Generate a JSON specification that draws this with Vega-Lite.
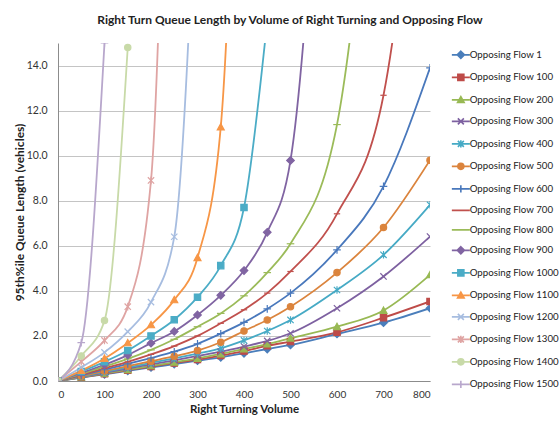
{
  "$schema": "https://vega.github.io/schema/vega-lite/v6.json",
  "autosize": {"type": "none"},
  "width": 372,
  "height": 338,
  "padding": {"left": 58, "top": 43, "right": 130, "bottom": 43},
  "background": "white",
  "title": {"text": "Right Turn Queue Length by Volume of Right Turning and Opposing Flow", "font": "Lato", "fontSize": 12, "fontWeight": "bold", "color": "#222", "anchor": "middle", "dx": 46, "offset": 16},
  "config": {
    "view": {"stroke": null},
    "font": "Lato",
    "axis": {"labelFont": "Lato", "titleFont": "Lato", "labelFontSize": 10, "labelColor": "#333", "titleFontSize": 11.5, "titleFontWeight": "bold", "titleColor": "#222", "domainColor": "#8c8c8c", "ticks": false, "gridColor": "#c4c4c4"},
    "legend": {"labelFont": "Lato", "labelFontSize": 9.7, "labelColor": "#222"}
  },
  "data": {"values": [
    {"series": "Opposing Flow 1", "volume": 0, "queue": 0},
    {"series": "Opposing Flow 1", "volume": 50, "queue": 0.15},
    {"series": "Opposing Flow 1", "volume": 100, "queue": 0.3},
    {"series": "Opposing Flow 1", "volume": 150, "queue": 0.45},
    {"series": "Opposing Flow 1", "volume": 200, "queue": 0.6},
    {"series": "Opposing Flow 1", "volume": 250, "queue": 0.75},
    {"series": "Opposing Flow 1", "volume": 300, "queue": 0.9},
    {"series": "Opposing Flow 1", "volume": 350, "queue": 1.05},
    {"series": "Opposing Flow 1", "volume": 400, "queue": 1.23},
    {"series": "Opposing Flow 1", "volume": 450, "queue": 1.42},
    {"series": "Opposing Flow 1", "volume": 500, "queue": 1.6},
    {"series": "Opposing Flow 1", "volume": 600, "queue": 2.09},
    {"series": "Opposing Flow 1", "volume": 700, "queue": 2.59},
    {"series": "Opposing Flow 1", "volume": 800, "queue": 3.23},
    {"series": "Opposing Flow 100", "volume": 0, "queue": 0},
    {"series": "Opposing Flow 100", "volume": 50, "queue": 0.16},
    {"series": "Opposing Flow 100", "volume": 100, "queue": 0.32},
    {"series": "Opposing Flow 100", "volume": 150, "queue": 0.48},
    {"series": "Opposing Flow 100", "volume": 200, "queue": 0.64},
    {"series": "Opposing Flow 100", "volume": 250, "queue": 0.8},
    {"series": "Opposing Flow 100", "volume": 300, "queue": 0.95},
    {"series": "Opposing Flow 100", "volume": 350, "queue": 1.13},
    {"series": "Opposing Flow 100", "volume": 400, "queue": 1.33},
    {"series": "Opposing Flow 100", "volume": 450, "queue": 1.56},
    {"series": "Opposing Flow 100", "volume": 500, "queue": 1.75},
    {"series": "Opposing Flow 100", "volume": 600, "queue": 2.16},
    {"series": "Opposing Flow 100", "volume": 700, "queue": 2.81},
    {"series": "Opposing Flow 100", "volume": 800, "queue": 3.53},
    {"series": "Opposing Flow 200", "volume": 0, "queue": 0},
    {"series": "Opposing Flow 200", "volume": 50, "queue": 0.17},
    {"series": "Opposing Flow 200", "volume": 100, "queue": 0.34},
    {"series": "Opposing Flow 200", "volume": 150, "queue": 0.5},
    {"series": "Opposing Flow 200", "volume": 200, "queue": 0.67},
    {"series": "Opposing Flow 200", "volume": 250, "queue": 0.83},
    {"series": "Opposing Flow 200", "volume": 300, "queue": 1.0},
    {"series": "Opposing Flow 200", "volume": 350, "queue": 1.2},
    {"series": "Opposing Flow 200", "volume": 400, "queue": 1.42},
    {"series": "Opposing Flow 200", "volume": 450, "queue": 1.64},
    {"series": "Opposing Flow 200", "volume": 500, "queue": 1.9},
    {"series": "Opposing Flow 200", "volume": 600, "queue": 2.41},
    {"series": "Opposing Flow 200", "volume": 700, "queue": 3.13},
    {"series": "Opposing Flow 200", "volume": 800, "queue": 4.71},
    {"series": "Opposing Flow 300", "volume": 0, "queue": 0},
    {"series": "Opposing Flow 300", "volume": 50, "queue": 0.19},
    {"series": "Opposing Flow 300", "volume": 100, "queue": 0.37},
    {"series": "Opposing Flow 300", "volume": 150, "queue": 0.55},
    {"series": "Opposing Flow 300", "volume": 200, "queue": 0.74},
    {"series": "Opposing Flow 300", "volume": 250, "queue": 0.92},
    {"series": "Opposing Flow 300", "volume": 300, "queue": 1.11},
    {"series": "Opposing Flow 300", "volume": 350, "queue": 1.3},
    {"series": "Opposing Flow 300", "volume": 400, "queue": 1.53},
    {"series": "Opposing Flow 300", "volume": 450, "queue": 1.78},
    {"series": "Opposing Flow 300", "volume": 500, "queue": 2.12},
    {"series": "Opposing Flow 300", "volume": 600, "queue": 3.23},
    {"series": "Opposing Flow 300", "volume": 700, "queue": 4.64},
    {"series": "Opposing Flow 300", "volume": 800, "queue": 6.41},
    {"series": "Opposing Flow 400", "volume": 0, "queue": 0},
    {"series": "Opposing Flow 400", "volume": 50, "queue": 0.2},
    {"series": "Opposing Flow 400", "volume": 100, "queue": 0.4},
    {"series": "Opposing Flow 400", "volume": 150, "queue": 0.6},
    {"series": "Opposing Flow 400", "volume": 200, "queue": 0.8},
    {"series": "Opposing Flow 400", "volume": 250, "queue": 1.0},
    {"series": "Opposing Flow 400", "volume": 300, "queue": 1.22},
    {"series": "Opposing Flow 400", "volume": 350, "queue": 1.45},
    {"series": "Opposing Flow 400", "volume": 400, "queue": 1.8},
    {"series": "Opposing Flow 400", "volume": 450, "queue": 2.22},
    {"series": "Opposing Flow 400", "volume": 500, "queue": 2.71},
    {"series": "Opposing Flow 400", "volume": 600, "queue": 4.04},
    {"series": "Opposing Flow 400", "volume": 700, "queue": 5.6},
    {"series": "Opposing Flow 400", "volume": 800, "queue": 7.82},
    {"series": "Opposing Flow 500", "volume": 0, "queue": 0},
    {"series": "Opposing Flow 500", "volume": 50, "queue": 0.22},
    {"series": "Opposing Flow 500", "volume": 100, "queue": 0.44},
    {"series": "Opposing Flow 500", "volume": 150, "queue": 0.66},
    {"series": "Opposing Flow 500", "volume": 200, "queue": 0.88},
    {"series": "Opposing Flow 500", "volume": 250, "queue": 1.1},
    {"series": "Opposing Flow 500", "volume": 300, "queue": 1.35},
    {"series": "Opposing Flow 500", "volume": 350, "queue": 1.72},
    {"series": "Opposing Flow 500", "volume": 400, "queue": 2.22},
    {"series": "Opposing Flow 500", "volume": 450, "queue": 2.71},
    {"series": "Opposing Flow 500", "volume": 500, "queue": 3.3},
    {"series": "Opposing Flow 500", "volume": 600, "queue": 4.81},
    {"series": "Opposing Flow 500", "volume": 700, "queue": 6.81},
    {"series": "Opposing Flow 500", "volume": 800, "queue": 9.8},
    {"series": "Opposing Flow 600", "volume": 0, "queue": 0},
    {"series": "Opposing Flow 600", "volume": 50, "queue": 0.25},
    {"series": "Opposing Flow 600", "volume": 100, "queue": 0.5},
    {"series": "Opposing Flow 600", "volume": 150, "queue": 0.76},
    {"series": "Opposing Flow 600", "volume": 200, "queue": 1.02},
    {"series": "Opposing Flow 600", "volume": 250, "queue": 1.3},
    {"series": "Opposing Flow 600", "volume": 300, "queue": 1.65},
    {"series": "Opposing Flow 600", "volume": 350, "queue": 2.1},
    {"series": "Opposing Flow 600", "volume": 400, "queue": 2.6},
    {"series": "Opposing Flow 600", "volume": 450, "queue": 3.2},
    {"series": "Opposing Flow 600", "volume": 500, "queue": 3.9},
    {"series": "Opposing Flow 600", "volume": 600, "queue": 5.82},
    {"series": "Opposing Flow 600", "volume": 700, "queue": 8.64},
    {"series": "Opposing Flow 600", "volume": 800, "queue": 13.9},
    {"series": "Opposing Flow 700", "volume": 0, "queue": 0},
    {"series": "Opposing Flow 700", "volume": 50, "queue": 0.28},
    {"series": "Opposing Flow 700", "volume": 100, "queue": 0.56},
    {"series": "Opposing Flow 700", "volume": 150, "queue": 0.85},
    {"series": "Opposing Flow 700", "volume": 200, "queue": 1.18},
    {"series": "Opposing Flow 700", "volume": 250, "queue": 1.55},
    {"series": "Opposing Flow 700", "volume": 300, "queue": 2.0},
    {"series": "Opposing Flow 700", "volume": 350, "queue": 2.56},
    {"series": "Opposing Flow 700", "volume": 400, "queue": 3.16},
    {"series": "Opposing Flow 700", "volume": 450, "queue": 3.9},
    {"series": "Opposing Flow 700", "volume": 500, "queue": 4.86},
    {"series": "Opposing Flow 700", "volume": 600, "queue": 7.42},
    {"series": "Opposing Flow 700", "volume": 700, "queue": 12.68},
    {"series": "Opposing Flow 700", "volume": 800, "queue": 30},
    {"series": "Opposing Flow 800", "volume": 0, "queue": 0},
    {"series": "Opposing Flow 800", "volume": 50, "queue": 0.32},
    {"series": "Opposing Flow 800", "volume": 100, "queue": 0.64},
    {"series": "Opposing Flow 800", "volume": 150, "queue": 0.98},
    {"series": "Opposing Flow 800", "volume": 200, "queue": 1.38},
    {"series": "Opposing Flow 800", "volume": 250, "queue": 1.85},
    {"series": "Opposing Flow 800", "volume": 300, "queue": 2.41},
    {"series": "Opposing Flow 800", "volume": 350, "queue": 3.0},
    {"series": "Opposing Flow 800", "volume": 400, "queue": 3.78},
    {"series": "Opposing Flow 800", "volume": 450, "queue": 4.81},
    {"series": "Opposing Flow 800", "volume": 500, "queue": 6.09},
    {"series": "Opposing Flow 800", "volume": 600, "queue": 11.38},
    {"series": "Opposing Flow 800", "volume": 700, "queue": 30},
    {"series": "Opposing Flow 900", "volume": 0, "queue": 0},
    {"series": "Opposing Flow 900", "volume": 50, "queue": 0.36},
    {"series": "Opposing Flow 900", "volume": 100, "queue": 0.72},
    {"series": "Opposing Flow 900", "volume": 150, "queue": 1.15},
    {"series": "Opposing Flow 900", "volume": 200, "queue": 1.68},
    {"series": "Opposing Flow 900", "volume": 250, "queue": 2.2},
    {"series": "Opposing Flow 900", "volume": 300, "queue": 2.93},
    {"series": "Opposing Flow 900", "volume": 350, "queue": 3.8},
    {"series": "Opposing Flow 900", "volume": 400, "queue": 4.9},
    {"series": "Opposing Flow 900", "volume": 450, "queue": 6.6},
    {"series": "Opposing Flow 900", "volume": 500, "queue": 9.79},
    {"series": "Opposing Flow 900", "volume": 600, "queue": 39},
    {"series": "Opposing Flow 1000", "volume": 0, "queue": 0},
    {"series": "Opposing Flow 1000", "volume": 50, "queue": 0.42},
    {"series": "Opposing Flow 1000", "volume": 100, "queue": 0.85},
    {"series": "Opposing Flow 1000", "volume": 150, "queue": 1.35},
    {"series": "Opposing Flow 1000", "volume": 200, "queue": 2.0},
    {"series": "Opposing Flow 1000", "volume": 250, "queue": 2.72},
    {"series": "Opposing Flow 1000", "volume": 300, "queue": 3.72},
    {"series": "Opposing Flow 1000", "volume": 350, "queue": 5.12},
    {"series": "Opposing Flow 1000", "volume": 400, "queue": 7.7},
    {"series": "Opposing Flow 1000", "volume": 450, "queue": 16},
    {"series": "Opposing Flow 1100", "volume": 0, "queue": 0},
    {"series": "Opposing Flow 1100", "volume": 50, "queue": 0.46},
    {"series": "Opposing Flow 1100", "volume": 100, "queue": 1.0},
    {"series": "Opposing Flow 1100", "volume": 150, "queue": 1.69},
    {"series": "Opposing Flow 1100", "volume": 200, "queue": 2.49},
    {"series": "Opposing Flow 1100", "volume": 250, "queue": 3.6},
    {"series": "Opposing Flow 1100", "volume": 300, "queue": 5.47},
    {"series": "Opposing Flow 1100", "volume": 350, "queue": 11.27},
    {"series": "Opposing Flow 1100", "volume": 400, "queue": 37},
    {"series": "Opposing Flow 1200", "volume": 0, "queue": 0},
    {"series": "Opposing Flow 1200", "volume": 50, "queue": 0.6},
    {"series": "Opposing Flow 1200", "volume": 100, "queue": 1.27},
    {"series": "Opposing Flow 1200", "volume": 150, "queue": 2.19},
    {"series": "Opposing Flow 1200", "volume": 200, "queue": 3.5},
    {"series": "Opposing Flow 1200", "volume": 250, "queue": 6.4},
    {"series": "Opposing Flow 1200", "volume": 300, "queue": 24},
    {"series": "Opposing Flow 1300", "volume": 0, "queue": 0},
    {"series": "Opposing Flow 1300", "volume": 50, "queue": 0.86},
    {"series": "Opposing Flow 1300", "volume": 100, "queue": 1.8},
    {"series": "Opposing Flow 1300", "volume": 150, "queue": 3.3},
    {"series": "Opposing Flow 1300", "volume": 200, "queue": 8.9},
    {"series": "Opposing Flow 1300", "volume": 250, "queue": 43},
    {"series": "Opposing Flow 1400", "volume": 0, "queue": 0},
    {"series": "Opposing Flow 1400", "volume": 50, "queue": 1.11},
    {"series": "Opposing Flow 1400", "volume": 100, "queue": 2.68},
    {"series": "Opposing Flow 1400", "volume": 150, "queue": 14.8},
    {"series": "Opposing Flow 1500", "volume": 0, "queue": 0},
    {"series": "Opposing Flow 1500", "volume": 50, "queue": 1.7},
    {"series": "Opposing Flow 1500", "volume": 100, "queue": 15.0}
  ]},
  "encoding": {
    "x": {"field": "volume", "type": "quantitative", "scale": {"domain": [0, 800], "nice": false}, "axis": {"title": "Right Turning Volume", "values": [0, 100, 200, 300, 400, 500, 600, 700, 800], "grid": false, "labelPadding": 8, "titlePadding": 4}},
    "y": {"field": "queue", "type": "quantitative", "scale": {"domain": [0, 15], "nice": false}, "axis": {"title": "95th%ile Queue Length (vehicles)", "titleFontSize": 12, "values": [0, 2, 4, 6, 8, 10, 12, 14], "format": ".1f", "grid": true, "labelPadding": 11, "labelFontSize": 10.5, "titlePadding": 0}},
    "color": {"field": "series", "type": "nominal", "scale": {
      "domain": ["Opposing Flow 1", "Opposing Flow 100", "Opposing Flow 200", "Opposing Flow 300", "Opposing Flow 400", "Opposing Flow 500", "Opposing Flow 600", "Opposing Flow 700", "Opposing Flow 800", "Opposing Flow 900", "Opposing Flow 1000", "Opposing Flow 1100", "Opposing Flow 1200", "Opposing Flow 1300", "Opposing Flow 1400", "Opposing Flow 1500"],
      "range": ["#4A7EBB", "#BE4B48", "#98B954", "#7D60A0", "#46AAC5", "#DB843D", "#4978BC", "#C0504D", "#9BBB59", "#8064A2", "#4BACC6", "#F79646", "#A7BDE0", "#DFA4A3", "#C8DAA8", "#B8A7CC"]},
      "legend": {"title": null, "orient": "none", "legendX": 398, "legendY": 7, "symbolSize": 36, "labelOffset": 4, "rowPadding": 8.5, "labelLimit": 200,
        "encode": {"symbols": {"update": {
          "shape": {"signal": "'M-3,0L3,0' + ['M0,-1.2L1.2,0L0,1.2L-1.2,0Z','M-1,-1L1,-1L1,1L-1,1Z','M0,-1.1L1.1,0.9L-1.1,0.9Z','M-1,-1L1,1M-1,1L1,-1','M-1,-1L1,1M-1,1L1,-1M0,-1.2L0,1.2','M-1,0A1,1,0,1,1,1,0A1,1,0,1,1,-1,0Z','M-1.2,0L1.2,0M0,-1.2L0,1.2','M-1,0L1,0','M-1.2,0L1.2,0','M0,-1.2L1.2,0L0,1.2L-1.2,0Z','M-1,-1L1,-1L1,1L-1,1Z','M0,-1.1L1.1,0.9L-1.1,0.9Z','M-1,-1L1,1M-1,1L1,-1','M-1,-1L1,1M-1,1L1,-1M0,-1.2L0,1.2','M-1,0A1,1,0,1,1,1,0A1,1,0,1,1,-1,0Z','M-1.2,0L1.2,0M0,-1.2L0,1.2'][indexof(['Opposing Flow 1','Opposing Flow 100','Opposing Flow 200','Opposing Flow 300','Opposing Flow 400','Opposing Flow 500','Opposing Flow 600','Opposing Flow 700','Opposing Flow 800','Opposing Flow 900','Opposing Flow 1000','Opposing Flow 1100','Opposing Flow 1200','Opposing Flow 1300','Opposing Flow 1400','Opposing Flow 1500'], datum.value)]"},
          "stroke": {"signal": "scale('color', datum.value)"},
          "strokeWidth": {"value": 1.6}}}}}}
  },
  "layer": [
    {"mark": {"type": "line", "interpolate": "monotone", "strokeWidth": 1.8, "clip": true}},
    {"mark": {"type": "point", "filled": true, "size": 40, "opacity": 1, "strokeWidth": 1.2, "clip": true,
      "shape": {"expr": "['M0,-1.2L1.2,0L0,1.2L-1.2,0Z','M-1,-1L1,-1L1,1L-1,1Z','M0,-1.1L1.1,0.9L-1.1,0.9Z','M-1,-1L1,1M-1,1L1,-1','M-1,-1L1,1M-1,1L1,-1M0,-1.2L0,1.2','M-1,0A1,1,0,1,1,1,0A1,1,0,1,1,-1,0Z','M-1.2,0L1.2,0M0,-1.2L0,1.2','M-1,0L1,0','M-1.2,0L1.2,0','M0,-1.2L1.2,0L0,1.2L-1.2,0Z','M-1,-1L1,-1L1,1L-1,1Z','M0,-1.1L1.1,0.9L-1.1,0.9Z','M-1,-1L1,1M-1,1L1,-1','M-1,-1L1,1M-1,1L1,-1M0,-1.2L0,1.2','M-1,0A1,1,0,1,1,1,0A1,1,0,1,1,-1,0Z','M-1.2,0L1.2,0M0,-1.2L0,1.2'][indexof(['Opposing Flow 1','Opposing Flow 100','Opposing Flow 200','Opposing Flow 300','Opposing Flow 400','Opposing Flow 500','Opposing Flow 600','Opposing Flow 700','Opposing Flow 800','Opposing Flow 900','Opposing Flow 1000','Opposing Flow 1100','Opposing Flow 1200','Opposing Flow 1300','Opposing Flow 1400','Opposing Flow 1500'], datum.series)]"},
      "stroke": {"expr": "scale('color', datum.series)"}}}
  ]
}
